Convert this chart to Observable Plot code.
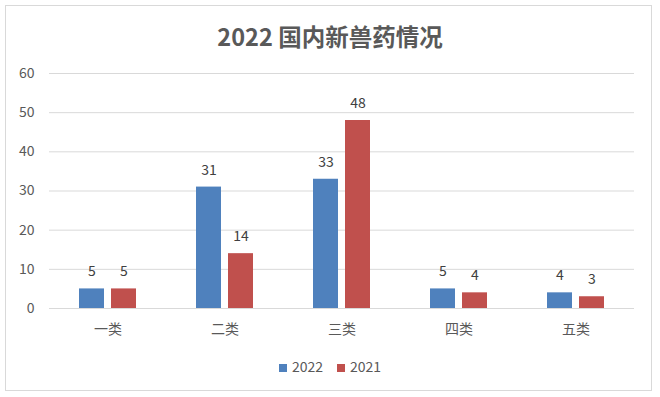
<!DOCTYPE html>
<html><head><meta charset="utf-8">
<script src="https://cdn.jsdelivr.net/npm/d3@7"></script>
<script src="https://cdn.jsdelivr.net/npm/@observablehq/plot@0.6"></script>
<style>
body{margin:0;background:#fff;font-family:"Noto Sans CJK SC","Noto Sans",sans-serif;}
#wrap{position:relative;width:660px;height:397px;}
#frame{position:absolute;left:5px;top:5px;width:647px;height:386px;border:1px solid #d9d9d9;box-sizing:border-box;}
#title{position:absolute;left:0;top:19px;width:660px;text-align:center;font-size:23.5px;font-weight:bold;color:#595959;line-height:34px;}
#chart{position:absolute;left:0;top:55px;}
#legend{position:absolute;left:0;top:356px;width:660px;text-align:center;font-size:14px;color:#595959;line-height:20px;}
#legend span.sw{display:inline-block;width:8px;height:8px;margin-right:5px;vertical-align:0px;}
#legend span.it{margin:0 7px;}
</style></head>
<body>
<div id="wrap">
<div id="frame"></div>
<div id="title">2022 国内新兽药情况</div>
<div id="chart"></div>
<div id="legend"></div>
</div>
<script>
const categories = ["一类","二类","三类","四类","五类"];
const seriesNames = ["2022","2021"];
const values2022 = [5,31,33,5,4];
const values2021 = [5,14,48,4,3];
const colors = ["#4F81BD","#C0504D"];
const yTicks = [0,10,20,30,40,50,60];

const data = [];
categories.forEach((c,i)=>{
  data.push({cat:c, series:"2022", value:values2022[i]});
  data.push({cat:c, series:"2021", value:values2021[i]});
});

const chart = Plot.plot({
  width:660, height:290,
  marginLeft:49, marginRight:26, marginTop:18, marginBottom:37,
  style:{fontFamily:'"Noto Sans CJK SC","Noto Sans",sans-serif', fontSize:"14px", color:"#595959", background:"transparent"},
  fx:{domain:categories, padding:0, label:null, axis:null},
  x:{domain:seriesNames, paddingInner:0.21, paddingOuter:0.88, axis:null},
  y:{domain:[0,60], ticks:yTicks, label:null},
  color:{domain:seriesNames, range:colors},
  marks:[
    Plot.gridY(yTicks,{stroke:"#d9d9d9", strokeOpacity:1, strokeWidth:1}),
    Plot.axisY(yTicks,{tickSize:0, tickPadding:15, fontSize:14, fill:"#595959", label:null}),
    Plot.axisFx({anchor:"bottom", tickSize:0, tickPadding:16, fontSize:14, fill:"#595959", label:null}),
    Plot.barY(data,{fx:"cat", x:"series", y:"value", fill:"series"}),
    Plot.text(data,{fx:"cat", x:"series", y:"value", text:d=>String(d.value), dy:-17, fontSize:14, fill:"#404040"})
  ]
});
document.getElementById("chart").appendChild(chart);

const lg = document.getElementById("legend");
seriesNames.forEach((s,i)=>{
  const it = document.createElement("span"); it.className="it";
  const sw = document.createElement("span"); sw.className="sw"; sw.style.background=colors[i];
  it.appendChild(sw); it.appendChild(document.createTextNode(s));
  lg.appendChild(it);
});
</script>
</body></html>
